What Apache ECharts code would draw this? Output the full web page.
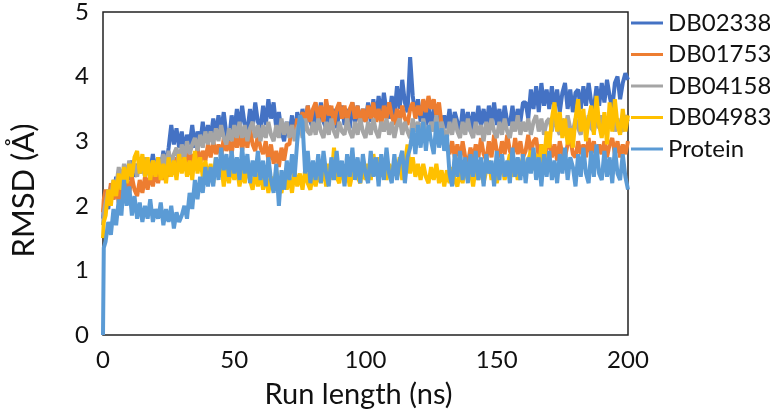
<!DOCTYPE html>
<html>
<head>
<meta charset="utf-8">
<script src="https://cdn.jsdelivr.net/npm/echarts@6/dist/echarts.min.js"></script>
<style>html,body{margin:0;padding:0;background:#fff}#chart{width:770px;height:414px}</style>
</head>
<body>
<div id="chart"></div>
<script>
// Time stamps (ns): 0, 0.3, then every 1 ns up to 200
var times = [0, 0.3];
for (var t = 1; t <= 200; t += 1) times.push(t);

var seriesNames = ['DB02338', 'DB01753', 'DB04158', 'DB04983', 'Protein'];
var xTicks = [0, 50, 100, 150, 200];
var yTicks = [0, 1, 2, 3, 4, 5];

var db02338 = [1.8, 1.95,
  2.15,1.95,2.3,2.1,2.45,2.2,2.55,2.3,2.6,2.4,
  2.7,2.45,2.65,2.5,2.75,2.45,2.7,2.55,2.8,2.5,
  2.75,2.55,2.85,2.6,2.9,3.25,2.95,3.2,2.9,3.15,
  2.85,3.1,2.95,3.25,2.9,3.15,2.95,3.3,3.0,3.25,
  3.05,3.35,3.1,3.4,3.15,3.45,3.1,3.0,3.4,3.15,
  3.5,3.2,3.55,3.25,3.15,3.5,3.2,3.6,3.3,3.2,
  3.55,3.25,3.65,3.35,3.6,3.2,3.45,3.15,3.0,3.3,
  3.1,3.4,3.05,3.45,3.2,3.5,3.25,3.55,3.3,3.2,
  3.5,3.25,3.6,3.3,3.2,3.55,3.25,3.5,3.2,3.45,
  3.55,3.25,3.5,3.2,3.6,3.3,3.55,3.25,3.5,3.3,
  3.6,3.3,3.65,3.35,3.7,3.4,3.75,3.45,3.35,3.7,
  3.4,3.85,3.5,3.95,3.6,3.45,4.3,3.7,3.4,3.65,
  3.3,3.6,3.25,3.55,3.2,3.5,3.25,3.45,3.15,3.4,
  3.2,3.5,3.15,3.45,3.3,3.1,3.5,3.2,3.45,3.15,
  3.45,3.2,3.55,3.25,3.5,3.2,3.55,3.3,3.6,3.25,
  3.5,3.2,3.55,3.3,3.25,3.55,3.2,3.5,3.3,3.6,
  3.6,3.35,3.8,3.5,3.85,3.45,3.9,3.55,3.8,3.5,
  3.85,3.5,3.8,3.45,3.75,3.9,3.5,3.8,3.45,3.75,
  3.8,3.5,3.85,3.55,3.9,3.6,3.5,3.85,3.55,3.9,
  3.6,3.95,3.7,3.5,3.9,4.0,3.65,3.9,4.05,3.95];

var db01753 = [1.9, 2.1,
  2.25,2.0,2.35,2.1,2.3,2.05,2.35,2.15,2.4,2.2,
  2.45,2.25,2.15,2.4,2.2,2.45,2.25,2.5,2.3,2.55,
  2.35,2.6,2.4,2.65,2.45,2.7,2.5,2.75,2.55,2.8,
  2.6,2.85,2.65,2.8,2.6,2.9,2.65,2.85,2.7,2.95,
  2.75,3.0,2.8,2.95,2.75,3.05,2.85,3.0,2.8,3.1,
  2.9,3.15,2.85,3.1,2.9,3.2,2.95,2.85,3.1,2.9,
  2.8,3.0,2.7,2.95,2.65,2.85,2.6,2.9,2.7,2.95,
  2.95,3.25,3.05,3.35,3.15,3.45,3.25,3.55,3.3,3.5,
  3.6,3.35,3.55,3.3,3.65,3.4,3.55,3.25,3.5,3.6,
  3.35,3.55,3.3,3.5,3.6,3.35,3.55,3.25,3.5,3.3,
  3.55,3.35,3.6,3.3,3.5,3.25,3.55,3.35,3.6,3.4,
  3.25,3.5,3.3,3.55,3.35,3.25,3.5,3.6,3.35,3.55,
  3.4,3.65,3.45,3.7,3.5,3.65,3.4,3.6,3.25,3.05,
  2.95,2.8,3.0,2.75,2.95,2.7,3.0,2.75,2.65,2.9,
  2.7,2.95,2.75,3.05,2.8,2.7,3.0,2.75,3.1,2.85,
  2.75,3.0,2.8,3.1,2.85,2.75,3.05,2.8,3.0,2.75,
  2.85,3.1,2.8,3.0,3.05,2.75,2.95,2.7,2.9,3.0,
  2.75,2.95,2.7,3.0,2.8,2.75,2.95,3.05,2.8,2.75,
  3.0,2.8,2.95,2.75,3.05,2.8,3.0,2.75,2.95,2.8,
  3.0,2.75,2.95,3.05,2.8,3.0,2.75,2.95,2.8,3.0];

var db04158 = [1.7, 1.9,
  2.05,2.25,2.15,2.4,2.3,2.6,2.35,2.65,2.45,2.7,
  2.5,2.65,2.45,2.7,2.5,2.75,2.55,2.45,2.7,2.55,
  2.75,2.55,2.8,2.6,2.85,2.65,2.8,2.9,2.65,2.95,
  2.75,3.0,2.8,2.95,3.05,2.85,3.1,2.9,3.15,2.95,
  3.15,2.95,3.2,3.0,3.25,3.05,2.95,3.2,3.0,3.25,
  3.05,3.3,3.05,3.25,3.0,3.2,3.3,3.05,3.25,3.0,
  3.25,3.05,3.3,3.1,3.0,3.25,3.05,3.35,3.1,3.3,
  3.05,3.25,3.0,3.2,3.3,3.05,3.35,3.15,3.1,3.3,
  3.1,3.35,3.15,3.05,3.3,3.1,3.35,3.15,3.05,3.3,
  3.15,3.1,3.35,3.15,3.05,3.3,3.1,3.35,3.15,3.05,
  3.3,3.1,3.35,3.15,3.05,3.3,3.15,3.35,3.1,3.3,
  3.05,3.25,3.35,3.1,3.3,3.15,3.05,3.35,3.15,3.3,
  3.1,3.35,3.15,3.05,3.3,3.15,3.4,3.1,3.3,3.15,
  3.05,3.3,3.1,3.35,3.15,3.05,3.3,3.1,3.35,3.15,
  3.05,3.3,3.1,3.25,3.0,3.3,3.1,3.35,3.15,3.05,
  3.3,3.1,3.35,3.15,3.05,3.3,3.15,3.4,3.1,3.3,
  3.15,3.35,3.1,3.3,3.4,3.15,3.35,3.1,3.3,3.35,
  3.15,3.4,3.2,3.1,3.35,3.15,3.4,3.2,3.15,3.35,
  3.2,3.1,3.35,3.15,3.4,3.2,3.15,3.35,3.2,3.4,
  3.15,3.35,3.2,3.4,3.15,3.35,3.2,3.15,3.4,3.3];

var db04983 = [1.5, 1.75,
  1.85,2.25,2.0,2.4,2.15,2.5,2.25,2.6,2.35,2.65,
  2.45,2.75,2.85,2.5,2.8,2.45,2.75,2.4,2.7,2.45,
  2.75,2.4,2.65,2.35,2.75,2.45,2.7,2.4,2.8,2.5,
  2.75,2.45,2.7,2.4,2.85,2.5,2.75,2.45,2.7,2.4,
  2.65,2.35,2.75,2.45,2.65,2.3,2.6,2.35,2.65,2.4,
  2.6,2.3,2.55,2.35,2.65,2.4,2.25,2.55,2.3,2.5,
  2.25,2.5,2.2,2.45,2.25,2.55,2.3,2.2,2.5,2.25,
  2.45,2.2,2.55,2.3,2.5,2.25,2.55,2.35,2.25,2.5,
  2.3,2.55,2.35,2.6,2.3,2.65,2.4,2.9,2.45,2.35,
  2.6,2.35,2.55,2.3,2.5,2.65,2.45,2.35,2.6,2.4,
  2.65,2.4,2.8,2.5,2.75,2.45,2.7,2.4,2.65,2.45,
  2.7,2.45,2.75,2.4,2.65,2.95,2.5,2.75,2.45,2.65,
  2.4,2.65,2.45,2.35,2.6,2.4,2.65,2.35,2.55,2.3,
  2.55,2.35,2.6,2.4,2.3,2.55,2.35,2.65,2.4,2.55,
  2.3,2.6,2.4,2.65,2.35,2.55,2.7,2.4,2.6,2.35,
  2.55,2.7,2.4,2.6,2.8,2.45,2.65,2.4,2.6,2.75,
  2.45,2.7,2.85,2.55,2.8,2.5,2.95,2.65,3.15,2.9,
  3.35,3.6,3.15,3.45,3.05,3.35,2.95,3.2,2.9,3.35,
  3.65,3.15,3.5,3.0,3.35,3.55,3.1,3.7,3.25,3.05,
  3.45,2.95,3.6,3.15,3.65,3.25,3.1,3.5,3.15,3.4];

var protein = [0, 1.35,
  1.45,1.75,1.55,1.95,1.7,2.1,1.85,2.4,2.0,2.3,
  1.85,2.15,1.8,2.05,1.75,2.0,1.8,2.1,1.75,1.95,
  1.8,2.05,1.7,1.95,1.75,2.0,1.65,1.9,1.75,1.85,
  2.0,1.8,2.2,1.95,2.4,2.1,2.45,2.2,2.6,2.3,
  2.6,2.3,2.75,2.4,2.9,2.55,2.8,2.45,2.85,2.5,
  2.75,2.4,2.9,2.5,2.8,2.35,2.7,2.45,2.85,2.4,
  2.7,2.3,2.75,2.4,2.2,2.65,2.0,2.55,2.25,2.7,
  2.4,2.8,2.45,3.0,3.4,3.3,2.5,2.85,2.35,2.7,
  2.4,2.8,2.35,2.85,2.5,2.3,2.75,2.4,2.85,2.45,
  2.7,2.3,2.8,2.45,2.9,2.4,2.75,2.35,2.8,2.5,
  2.35,2.85,2.45,2.75,2.3,2.8,2.4,2.9,2.5,2.35,
  2.8,2.4,2.7,2.85,2.35,2.75,2.9,3.2,2.8,3.25,
  2.9,3.3,2.85,3.25,3.0,2.8,3.3,2.9,3.2,2.85,
  3.1,2.5,2.3,2.8,2.45,2.85,2.4,2.75,2.35,2.8,
  2.45,2.85,2.4,2.75,2.3,2.8,2.5,2.7,2.3,2.85,
  2.4,2.8,2.45,2.7,2.35,2.9,2.45,2.75,2.4,2.8,
  2.35,2.75,2.5,2.9,2.4,2.75,2.3,2.8,2.45,2.85,
  2.4,2.7,2.35,2.8,2.5,2.9,2.4,2.75,2.6,2.3,
  2.8,2.45,2.9,2.5,2.35,2.85,2.45,2.95,2.5,2.4,
  2.85,2.45,2.75,2.35,2.9,2.5,2.4,2.8,2.45,2.25];

var colors = ['#4472C4', '#ED7D31', '#A5A5A5', '#FFC000', '#5B9BD5'];
var values = [db02338, db01753, db04158, db04983, protein];

function pairs(v) {
  return times.map(function (t, i) { return [t, v[i]]; });
}

var FONT = 'Lato';
var chart = echarts.init(document.getElementById('chart'), null, {renderer: 'canvas'});
chart.setOption({
  animation: false,
  backgroundColor: '#fff',
  color: colors,
  textStyle: {fontFamily: FONT},
  grid: {left: 99, right: 142, top: 10, bottom: 76, show: true, borderColor: '#222', borderWidth: 1.5, backgroundColor: 'transparent'},
  legend: {
    orient: 'vertical', left: 631, top: 11, itemGap: 7.5, padding: 0,
    icon: 'rect', itemWidth: 32, itemHeight: 3,
    textStyle: {fontFamily: FONT, fontSize: 24, color: '#111', lineHeight: 24},
    data: seriesNames
  },
  xAxis: {
    type: 'value', min: xTicks[0], max: xTicks[xTicks.length - 1], interval: 50,
    name: 'Run length (ns)', nameLocation: 'middle', nameGap: 45,
    nameTextStyle: {fontFamily: FONT, fontSize: 29, color: '#111', padding: [0, 14, 0, 0]},
    axisLine: {show: false}, axisTick: {show: false}, splitLine: {show: false},
    axisLabel: {fontFamily: FONT, fontSize: 24, color: '#111', margin: 13}
  },
  yAxis: {
    type: 'value', min: yTicks[0], max: yTicks[yTicks.length - 1], interval: 1,
    name: 'RMSD (Å)', nameLocation: 'middle', nameGap: 64,
    nameTextStyle: {fontFamily: FONT, fontSize: 31, color: '#111', padding: [0, 34, 0, 0]},
    axisLine: {show: false}, axisTick: {show: false}, splitLine: {show: false},
    axisLabel: {fontFamily: FONT, fontSize: 24, color: '#111', margin: 14}
  },
  series: seriesNames.map(function (n, i) {
    return {
      name: n, type: 'line', data: pairs(values[i]), showSymbol: false,
      lineStyle: {width: 4, color: colors[i]}, itemStyle: {color: colors[i]}
    };
  })
});
</script>
</body>
</html>
